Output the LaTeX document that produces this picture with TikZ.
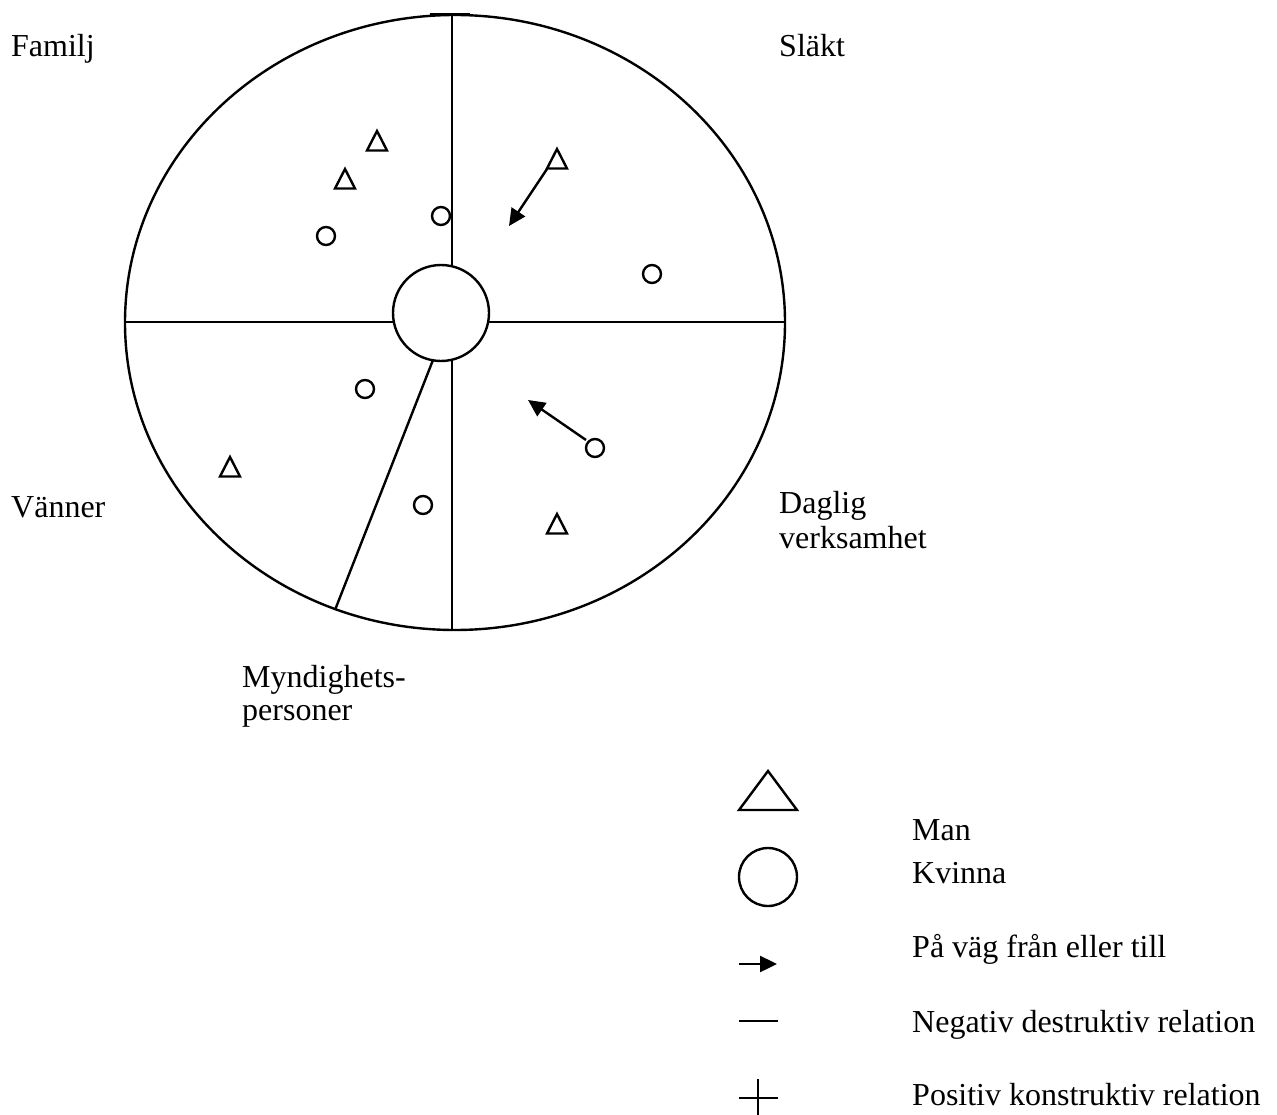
\documentclass[tikz,border=0pt]{standalone}
\usepackage{fontspec}
\setmainfont{Liberation Serif}
\usetikzlibrary{arrows.meta}
\begin{document}
\begin{tikzpicture}[x=1pt,y=-1pt,
  ln/.style={line width=2.4pt},
  lbl/.style={anchor=base west,inner sep=0pt,font=\fontsize{32}{35}\selectfont},
  arr/.style={line width=2.4pt,-{Triangle[length=17pt,width=16pt]}}]
\useasboundingbox (0,0) rectangle (1277,1115);
% big circle and hub
\draw[ln] (455,322.5) ellipse [x radius=330, y radius=307.5];
\draw[ln] (441,313) circle [radius=48];
\coordinate (top) at (452,15);
\coordinate (hubtop) at (452,266.3);
\coordinate (hubbot) at (452,359.7);
\coordinate (bot) at (452,630);
\coordinate (left) at (125,322);
\coordinate (hubleft) at (394,322);
\coordinate (hubright) at (488,322);
\coordinate (right) at (785,322);
\coordinate (diagin) at (433,360);
\coordinate (diagout) at (335,610);
\draw[ln] (top) -- (hubtop);
\draw[ln] (hubbot) -- (bot);
\draw[ln] (left) -- (hubleft);
\draw[ln] (hubright) -- (right);
\draw[ln] (diagin) -- (diagout);
\draw[ln] (430,14.5) -- (470,14.5);
% small triangles
\foreach \x/\y in {377/141,345/179,557/159,230/467,557/524}
  \draw[ln,line join=miter] (\x-10,\y+9.5) -- (\x+10,\y+9.5) -- (\x,\y-10) -- cycle;
% small circles
\foreach \x/\y in {441/216,326/236,652/274,365/389,595/448,423/505}
  \draw[ln] (\x,\y) circle [radius=9];
% arrows
\coordinate (a1s) at (547,169);
\coordinate (a1e) at (509,226);
\coordinate (a2s) at (586,440);
\coordinate (a2e) at (528,400);
\draw[arr] (a1s) -- (a1e);
\draw[arr] (a2s) -- (a2e);
% labels
\node[lbl] (familj) at (11,57) {Familj};
\node[lbl] (slakt) at (779,57) {Släkt};
\node[lbl] (vanner) at (11,517) {Vänner};
\node[lbl] (daglig) at (779,513) {Daglig};
\node[lbl] (verks) at (779,548) {verksamhet};
\node[lbl] (mynd) at (242,687) {Myndighets-};
\node[lbl] (pers) at (242,720) {personer};
% legend
\draw[ln,line join=miter] (739,810) -- (797,810) -- (768,771) -- cycle;
\draw[ln] (768,877) circle [radius=29];
\coordinate (la1) at (739,964);
\coordinate (la2) at (777,964);
\draw[arr] (la1) -- (la2);
\draw[ln] (739,1021) -- (778,1021);
\draw[ln] (739,1098) -- (778,1098);
\draw[ln] (758,1079) -- (758,1115);
\node[lbl] (man) at (912,840) {Man};
\node[lbl] (kvinna) at (912,883) {Kvinna};
\node[lbl] (pavag) at (912,957) {På väg från eller till};
\node[lbl] (neg) at (912,1032) {Negativ destruktiv relation};
\node[lbl] (pos) at (912,1105) {Positiv konstruktiv relation};
\end{tikzpicture}
\end{document}
